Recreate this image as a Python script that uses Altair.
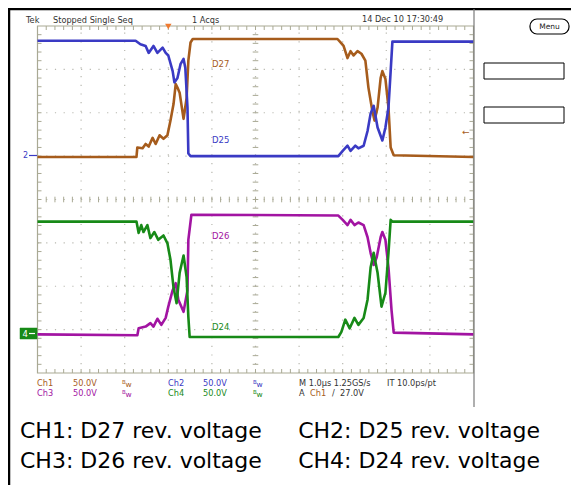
import altair as alt
import pandas as pd

# ---------------- trace data (time in µs, trigger at 0; values in volts) ----------------
CH1_T = [-3.0, -0.73, -0.71, -0.59, -0.52, -0.45, -0.36, -0.29, -0.20, -0.11, -0.02, 0.05, 0.12, 0.17,
         0.21, 0.26, 0.35, 0.42, 0.46, 0.51, 0.56, 3.88, 3.95, 4.02, 4.11, 4.18, 4.25, 4.34, 4.43, 4.52,
         4.59, 4.68, 4.73, 4.80, 4.87, 4.91, 4.98, 5.05, 5.10, 5.17, 7.0]
CH1_V = [-1, -1, 10, 9, 14, 11, 21, 14, 24, 20, 24, 41, 60, 83, 79, 73, 43, 67, 110, 131, 135, 135, 131,
         127, 113, 121, 116, 121, 118, 110, 79, 52, 41, 56, 90, 98, 89, 56, 10, 1, -1]

CH2_T = [-3.0, -0.75, -0.64, -0.52, -0.45, -0.34, -0.25, -0.13, -0.06, 0.0, 0.10, 0.14, 0.21, 0.28, 0.35,
         0.39, 0.44, 0.46, 0.51, 3.90, 4.00, 4.11, 4.18, 4.29, 4.36, 4.48, 4.57, 4.64, 4.71, 4.80, 4.91,
         4.98, 5.05, 5.10, 5.14, 7.0]
CH2_V = [133, 133, 129, 127, 119, 127, 119, 125, 119, 116, 98, 85, 90, 106, 112, 102, 56, 3, 0, 0, 6, 12,
         6, 12, 9, 12, 29, 49, 58, 33, 18, 33, 56, 98, 132, 132]

CH3_T = [-3.0, -0.71, -0.68, -0.52, -0.41, -0.34, -0.25, -0.16, -0.06, 0.0, 0.10, 0.17, 0.23, 0.35, 0.44,
         0.46, 0.53, 3.90, 4.00, 4.11, 4.18, 4.27, 4.36, 4.48, 4.57, 4.64, 4.71, 4.78, 4.87, 4.91, 4.98,
         5.05, 5.12, 5.17, 7.0]
CH3_V = [-1, -2, 6, 8, 12, 8, 17, 10, 18, 31, 50, 58, 39, 25, 50, 108, 137, 136, 131, 125, 131, 125, 128,
         125, 111, 93, 79, 88, 111, 117, 108, 76, 27, 1, -1]

CH4_T = [-3.0, -0.73, -0.68, -0.62, -0.57, -0.48, -0.41, -0.32, -0.23, -0.11, -0.02, 0.05, 0.12, 0.19,
         0.26, 0.35, 0.42, 0.46, 0.49, 3.90, 3.97, 4.06, 4.16, 4.27, 4.36, 4.48, 4.57, 4.64, 4.71, 4.80,
         4.89, 4.98, 5.05, 5.10, 5.14, 7.0]
CH4_V = [129, 129, 116, 125, 117, 125, 110, 117, 108, 113, 104, 85, 53, 35, 70, 90, 65, 19, -4, -4, 2, 16,
         6, 18, 10, 18, 39, 76, 93, 70, 31, 47, 93, 131, 129, 129]

CHANNELS = ["CH1", "CH2", "CH3", "CH4"]
CH_COLORS = ["#a65c1c", "#3a3ac4", "#a214a2", "#178a17"]
CH_OFFSET_DIV = [5.0, 5.0, 0.91, 0.91]   # ground marker position, divisions from bottom
VOLTS_PER_DIV = 50.0
TRACE_LABELS = ["D27", "D25", "D26", "D24"]

# graticule: 10 x 8 divisions, 1 µs/div
T_LEFT, T_RIGHT = -3.0, 7.0
N_VDIV = 8

# ---------------- build trace table ----------------
rows = []
for ch, ts, vs, off in zip(CHANNELS, [CH1_T, CH2_T, CH3_T, CH4_T], [CH1_V, CH2_V, CH3_V, CH4_V], CH_OFFSET_DIV):
    for i, (t, v) in enumerate(zip(ts, vs)):
        rows.append({"ch": ch, "i": i, "t": t, "y": off + v / VOLTS_PER_DIV})
traces = pd.DataFrame(rows)

# canvas: 563 x 477 svg placed at page (8,8); graticule from page x 37.5..473.5, y 26..373
W, H = 563, 477
PXDIV_X, PXDIV_Y = 43.6, 43.375
XS = alt.Scale(domain=[T_LEFT - 29.5 / PXDIV_X, T_LEFT + (8 + W - 37.5) / PXDIV_X], nice=False, zero=False)
YS = alt.Scale(domain=[(373 - (8 + H)) / PXDIV_Y, (373 - 8) / PXDIV_Y], nice=False, zero=False)

GRID = "#a9a994"
DOT = "#b8b8b0"

def X(f):
    return alt.X(f, type="quantitative", scale=XS, axis=None)

def Y(f):
    return alt.Y(f, type="quantitative", scale=YS, axis=None)

layers = []

# graticule grid lines (dotted)
vlines = pd.DataFrame({"t": [T_LEFT + k for k in range(1, 10)], "y0": 0, "y1": N_VDIV})
hlines = pd.DataFrame({"y": [k for k in range(1, N_VDIV)], "t0": T_LEFT, "t1": T_RIGHT})
layers.append(alt.Chart(vlines).mark_rule(color=DOT, strokeDash=[1.2, 7.5], strokeWidth=1.2)
              .encode(x=X("t"), y=Y("y0"), y2="y1"))
layers.append(alt.Chart(hlines).mark_rule(color=DOT, strokeDash=[1.2, 7.5], strokeWidth=1.2)
              .encode(y=Y("y"), x=X("t0"), x2="t1"))

# tick marks
tk = []
L = 4 / PXDIV_X
LY = 4 / PXDIV_Y
for k in range(1, 50):
    t = T_LEFT + 0.2 * k
    tk.append({"x0": t, "x1": t, "y0": N_VDIV, "y1": N_VDIV - LY})
    tk.append({"x0": t, "x1": t, "y0": 0, "y1": LY})
    tk.append({"x0": t, "x1": t, "y0": 4 - 0.7 * LY, "y1": 4 + 0.7 * LY})
for k in range(1, 40):
    y = 0.2 * k
    tk.append({"x0": T_LEFT, "x1": T_LEFT + L, "y0": y, "y1": y})
    tk.append({"x0": T_RIGHT, "x1": T_RIGHT - L, "y0": y, "y1": y})
    tk.append({"x0": 2 - 0.7 * L, "x1": 2 + 0.7 * L, "y0": y, "y1": y})
ticks = pd.DataFrame(tk)
layers.append(alt.Chart(ticks).mark_rule(color=GRID, strokeWidth=1)
              .encode(x=X("x0"), x2="x1", y=Y("y0"), y2="y1"))

# graticule border
border = pd.DataFrame({"t0": [T_LEFT], "t1": [T_RIGHT], "y0": [0], "y1": [N_VDIV]})
layers.append(alt.Chart(border).mark_rect(fill=None, stroke=GRID, strokeWidth=1.2)
              .encode(x=X("t0"), x2="t1", y=Y("y0"), y2="y1"))

# traces
layers.append(alt.Chart(traces).mark_line(strokeWidth=2.6, strokeJoin="round")
              .encode(x=X("t"), y=Y("y"),
                      color=alt.Color("ch:N", scale=alt.Scale(domain=CHANNELS, range=CH_COLORS), legend=None),
                      order=alt.Order("i:Q")))

# trigger position marker
trig = pd.DataFrame({"t": [0.0]})
layers.append(alt.Chart(trig).mark_point(shape="triangle-down", filled=True, color="#f07a30", size=42, opacity=1)
              .encode(x=X("t"), y=alt.value(26.5 - 8)))

# ---------------- decorations in pixel space ----------------
dummy = pd.DataFrame({"d": [0]})
base = alt.Chart(dummy)
FONT = "DejaVu Sans"

def P(v):
    return v - 8

def txt(s, x, y, color="#333333", size=8.2, align="left", font=FONT, baseline="middle"):
    return base.mark_text(text=s, align=align, baseline=baseline, font=font, fontSize=size, color=color).encode(
        x=alt.value(P(x)), y=alt.value(P(y)))

def rule(x1, y1, x2, y2, color="black", w=1.0):
    return base.mark_rule(color=color, strokeWidth=w).encode(
        x=alt.value(P(x1)), x2=alt.value(P(x2)), y=alt.value(P(y1)), y2=alt.value(P(y2)))

def box(x1, y1, x2, y2, fill="white", stroke="black", w=1.0, r=0):
    return base.mark_rect(fill=fill, stroke=stroke, strokeWidth=w, cornerRadius=r).encode(
        x=alt.value(P(x1)), x2=alt.value(P(x2)), y=alt.value(P(y1)), y2=alt.value(P(y2)))

# frame lines
layers.append(rule(8, 9, 8 + W, 9, "black", 2.5))
layers.append(rule(9, 8, 9, 8 + H, "black", 2.5))
layers.append(rule(474, 9, 474, 407, "#7a7a7a", 1.2))

# top status line
layers.append(txt("Tek", 26, 20.5))
layers.append(txt("Stopped  Single Seq", 53, 20.5))
layers.append(txt("1 Acqs", 192, 20.5))
layers.append(txt("14 Dec 10 17:30:49", 362, 19.5))

# menu button and side boxes
layers.append(box(530, 19, 569, 34, "white", "black", 1.2, 7))
layers.append(txt("Menu", 549.5, 26.5, "#222222", 7.5, "center"))
layers.append(box(484, 63, 564, 79, "white", "black", 1.0))
layers.append(box(484, 107, 564, 123, "white", "black", 1.0))

# trace labels
layers.append(txt(TRACE_LABELS[0], 212, 64, CH_COLORS[0], 8.5))
layers.append(txt(TRACE_LABELS[1], 212, 140, CH_COLORS[1], 8.5))
layers.append(txt(TRACE_LABELS[2], 212, 236, CH_COLORS[2], 8.5))
layers.append(txt(TRACE_LABELS[3], 212, 327, CH_COLORS[3], 8.5))

# ground reference markers
layers.append(txt("2", 23, 155.5, CH_COLORS[1], 8))
layers.append(rule(29, 155.5, 37, 155.5, CH_COLORS[1], 1.2))
layers.append(box(20, 328, 37, 339, CH_COLORS[3], CH_COLORS[3], 0.5))
layers.append(txt("4", 22.5, 333.5, "white", 8.5))
layers.append(rule(29, 333.5, 35, 333.5, "white", 1.2))
layers.append(txt("\u2190", 462, 132, CH_COLORS[0], 9))

# bottom status
layers.append(txt("Ch1", 37, 383.5, CH_COLORS[0]))
layers.append(txt("50.0V", 73, 383.5, CH_COLORS[0]))
layers.append(txt("B", 122, 381.5, CH_COLORS[0], 5.5))
layers.append(txt("w", 125.5, 384.5, CH_COLORS[0], 7.5))
layers.append(txt("Ch2", 168, 383.5, CH_COLORS[1]))
layers.append(txt("50.0V", 203, 383.5, CH_COLORS[1]))
layers.append(txt("B", 253, 381.5, CH_COLORS[1], 5.5))
layers.append(txt("w", 256.5, 384.5, CH_COLORS[1], 7.5))
layers.append(txt("M 1.0\u00b5s 1.25GS/s", 299, 383.5, "#333333"))
layers.append(txt("IT 10.0ps/pt", 387, 383.5, "#333333"))

layers.append(txt("Ch3", 37, 393.5, CH_COLORS[2]))
layers.append(txt("50.0V", 73, 393.5, CH_COLORS[2]))
layers.append(txt("B", 122, 391.5, CH_COLORS[2], 5.5))
layers.append(txt("w", 125.5, 394.5, CH_COLORS[2], 7.5))
layers.append(txt("Ch4", 168, 393.5, CH_COLORS[3]))
layers.append(txt("50.0V", 203, 393.5, CH_COLORS[3]))
layers.append(txt("B", 253, 391.5, CH_COLORS[3], 5.5))
layers.append(txt("w", 256.5, 394.5, CH_COLORS[3], 7.5))
layers.append(txt("A", 299, 393.5, "#333333"))
layers.append(txt("Ch1", 310, 393.5, CH_COLORS[0]))
layers.append(txt("/", 332, 393.5, "#333333"))
layers.append(txt("27.0V", 340, 393.5, "#333333"))

# caption
CAPTION = [["CH1: D27 rev. voltage", "CH2: D25 rev. voltage"],
           ["CH3: D26 rev. voltage", "CH4: D24 rev. voltage"]]
for row, yy in zip(CAPTION, [438, 468]):
    layers.append(txt(row[0], 20, yy, "black", 22, "left", FONT, "alphabetic"))
    layers.append(txt(row[1], 540, yy, "black", 22, "right", FONT, "alphabetic"))

chart = (alt.layer(*layers)
         .properties(width=W, height=H, padding=0, autosize="none", background="white")
         .configure_view(strokeWidth=0))

chart.save("out.html", embed_options={"renderer": "svg", "actions": False})
